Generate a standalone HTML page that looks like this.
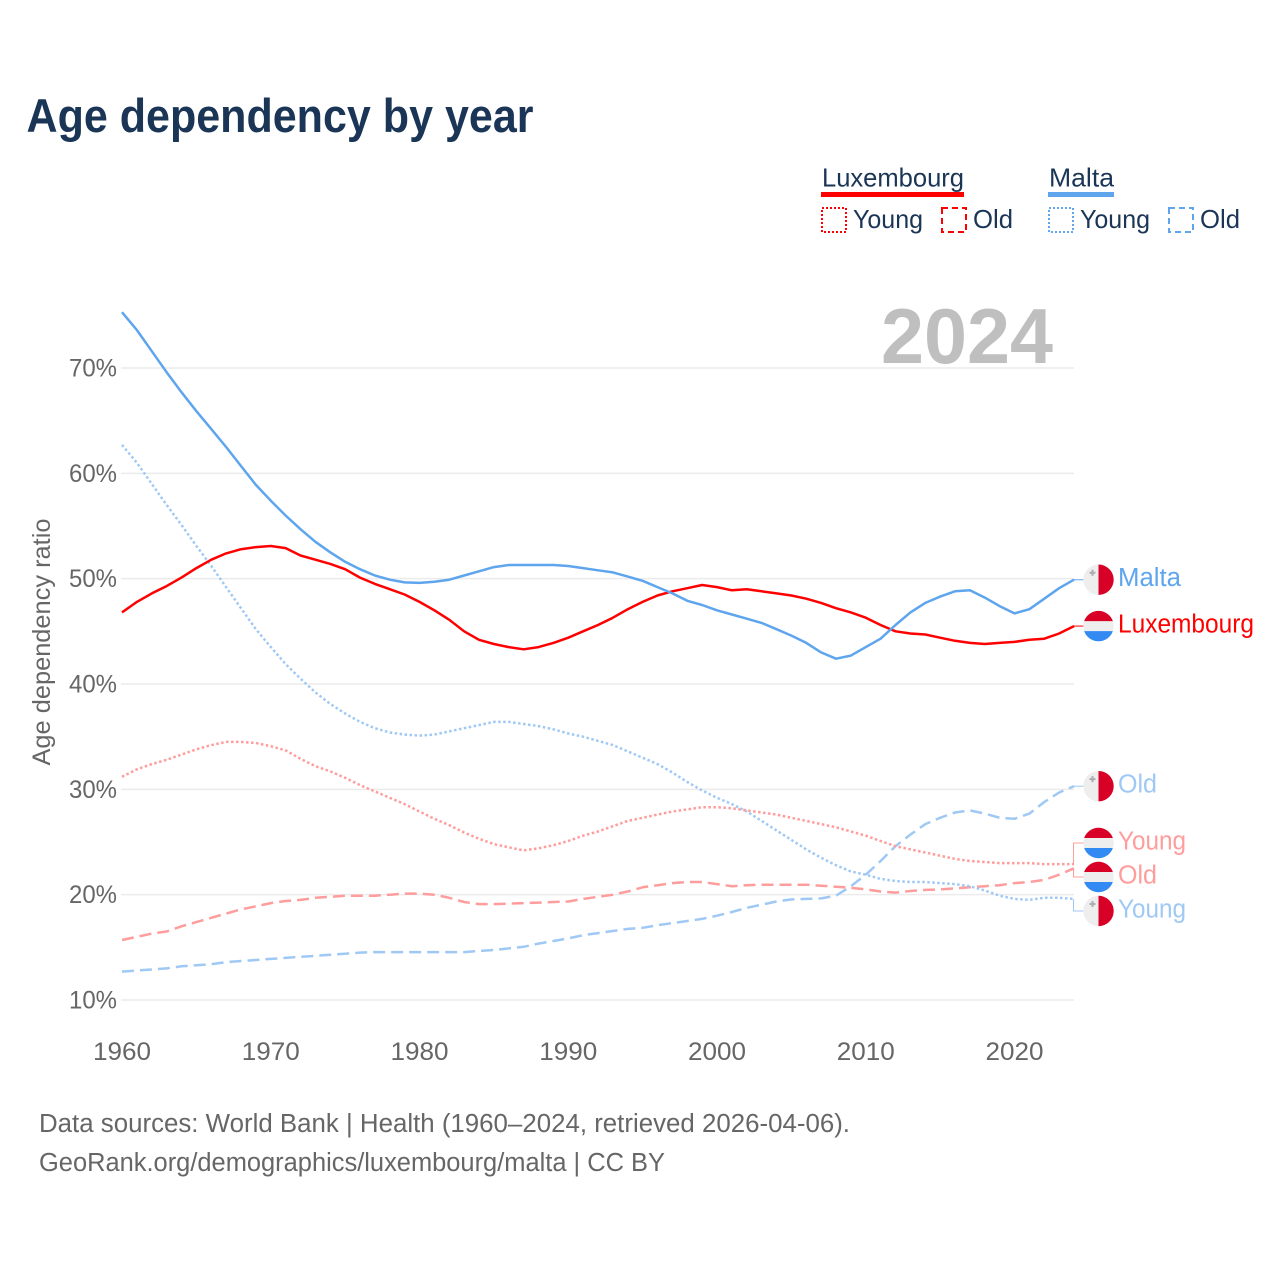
<!DOCTYPE html>
<html lang="en">
<head>
<meta charset="utf-8">
<title>Age dependency by year</title>
<style>
html,body{margin:0;padding:0;background:#fff;}
svg{display:block;font-family:"Liberation Sans",sans-serif;}
</style>
</head>
<body>
<svg id="chart" xmlns="http://www.w3.org/2000/svg" width="1280" height="1280" viewBox="0 0 1280 1280">
  <rect width="1280" height="1280" fill="#fff"/>
  <text x="26.5" y="132" font-size="47" font-weight="700" fill="#1a3556" textLength="507" lengthAdjust="spacingAndGlyphs">Age dependency by year</text>

  <g font-size="26" fill="#1a3556">
    <text x="822" y="186.5" textLength="142" lengthAdjust="spacingAndGlyphs">Luxembourg</text>
    <rect x="821" y="192" width="143" height="5" fill="#ff0000"/>
    <rect x="822" y="208" width="24" height="24" fill="none" stroke="#ff0000" stroke-width="2" stroke-dasharray="2 2"/>
    <text x="853" y="228" textLength="70" lengthAdjust="spacingAndGlyphs">Young</text>
    <rect x="942" y="208" width="24" height="24" fill="none" stroke="#ff0000" stroke-width="2" stroke-dasharray="6 4"/>
    <text x="973" y="228" textLength="40" lengthAdjust="spacingAndGlyphs">Old</text>
    <text x="1049" y="186.5" textLength="65" lengthAdjust="spacingAndGlyphs">Malta</text>
    <rect x="1048" y="192" width="66" height="5" fill="#5ea5ee"/>
    <rect x="1049" y="208" width="24" height="24" fill="none" stroke="#5ea5ee" stroke-width="2" stroke-dasharray="2 2"/>
    <text x="1080" y="228" textLength="70" lengthAdjust="spacingAndGlyphs">Young</text>
    <rect x="1169" y="208" width="24" height="24" fill="none" stroke="#5ea5ee" stroke-width="2" stroke-dasharray="6 4"/>
    <text x="1200" y="228" textLength="40" lengthAdjust="spacingAndGlyphs">Old</text>
  </g>

  <text transform="translate(50,642) rotate(-90)" text-anchor="middle" font-size="25" fill="#666" textLength="247" lengthAdjust="spacingAndGlyphs">Age dependency ratio</text>
  <g id="grid"></g>
  <g id="yticks"></g>
  <g id="xticks"></g>
  <text x="881" y="363" font-size="78" font-weight="700" fill="#bfbfbf" textLength="172" lengthAdjust="spacingAndGlyphs">2024</text>
  <g id="series"></g>
  <g id="ends"></g>

  <text x="39" y="1132" font-size="25.5" fill="#666" textLength="811" lengthAdjust="spacingAndGlyphs">Data sources: World Bank | Health (1960–2024, retrieved 2026-04-06).</text>
  <text x="39" y="1171" font-size="25.5" fill="#666" textLength="626" lengthAdjust="spacingAndGlyphs">GeoRank.org/demographics/luxembourg/malta | CC BY</text>
</svg>

<script>
const yTickValues = [10, 20, 30, 40, 50, 60, 70];
const xTickYears = [1960, 1970, 1980, 1990, 2000, 2010, 2020];
const firstYear = 1960;
const maltaTotal = [75.3,73.6,71.6,69.6,67.7,65.9,64.2,62.5,60.7,58.9,57.4,56.0,54.7,53.5,52.5,51.6,50.9,50.3,49.9,49.65,49.6,49.7,49.9,50.3,50.7,51.1,51.3,51.3,51.3,51.3,51.2,51.0,50.8,50.6,50.2,49.8,49.2,48.6,47.9,47.5,47.0,46.6,46.2,45.8,45.2,44.6,43.9,43.0,42.4,42.7,43.5,44.3,45.6,46.8,47.7,48.3,48.8,48.9,48.2,47.4,46.7,47.1,48.1,49.1,49.9];
const luxembourgTotal = [46.8,47.8,48.6,49.3,50.1,51.0,51.8,52.4,52.8,53.0,53.1,52.9,52.2,51.8,51.4,50.9,50.1,49.5,49.0,48.5,47.8,47.0,46.1,45.0,44.2,43.8,43.5,43.3,43.5,43.9,44.4,45.0,45.6,46.3,47.1,47.8,48.4,48.8,49.1,49.4,49.2,48.9,49.0,48.8,48.6,48.4,48.1,47.7,47.2,46.8,46.3,45.6,45.0,44.8,44.7,44.4,44.1,43.9,43.8,43.9,44.0,44.2,44.3,44.8,45.5];
const maltaYoung = [62.7,61.0,59.0,57.0,55.1,53.1,51.2,49.2,47.2,45.2,43.5,41.9,40.5,39.2,38.1,37.2,36.4,35.8,35.4,35.2,35.1,35.2,35.5,35.8,36.1,36.4,36.4,36.2,36.0,35.7,35.3,35.0,34.6,34.2,33.6,33.0,32.4,31.6,30.7,29.9,29.2,28.6,27.9,27.0,26.1,25.2,24.3,23.5,22.8,22.2,21.9,21.5,21.3,21.2,21.2,21.1,21.0,20.8,20.4,19.9,19.6,19.5,19.7,19.7,19.6];
const luxembourgYoung = [31.2,31.9,32.4,32.8,33.3,33.8,34.2,34.5,34.5,34.4,34.1,33.7,32.9,32.2,31.7,31.1,30.4,29.8,29.2,28.6,27.9,27.2,26.6,25.9,25.3,24.8,24.5,24.2,24.4,24.7,25.1,25.6,26.0,26.5,27.0,27.3,27.6,27.9,28.1,28.3,28.3,28.2,28.0,27.8,27.6,27.3,27.0,26.7,26.4,26.0,25.6,25.1,24.6,24.3,24.0,23.7,23.4,23.2,23.1,23.0,23.0,23.0,22.9,22.9,22.9];
const luxembourgOld = [15.7,16.0,16.3,16.5,17.0,17.4,17.8,18.2,18.6,18.9,19.2,19.4,19.5,19.7,19.8,19.9,19.9,19.9,20.0,20.1,20.1,20.0,19.7,19.3,19.1,19.1,19.15,19.2,19.25,19.3,19.35,19.6,19.8,20.0,20.3,20.7,20.9,21.1,21.2,21.2,21.0,20.8,20.9,20.95,20.95,20.95,20.95,20.85,20.75,20.65,20.5,20.3,20.2,20.35,20.45,20.5,20.6,20.7,20.8,20.9,21.1,21.2,21.4,21.9,22.5];
const maltaOld = [12.7,12.8,12.9,13.0,13.2,13.3,13.4,13.6,13.7,13.8,13.9,14.0,14.1,14.2,14.3,14.4,14.5,14.55,14.55,14.55,14.55,14.55,14.55,14.55,14.65,14.75,14.9,15.05,15.35,15.6,15.85,16.15,16.35,16.55,16.75,16.85,17.1,17.3,17.5,17.7,18.0,18.35,18.75,19.05,19.35,19.55,19.6,19.65,19.9,20.8,21.9,23.2,24.6,25.7,26.7,27.3,27.8,28.0,27.7,27.3,27.2,27.7,28.8,29.7,30.3];

const NS = 'http://www.w3.org/2000/svg';
const xScale = function (year) { return 122 + (year - firstYear) * 14.875; };
const yScale = function (value) { return 1000 - (value - 10) * 10.533; };
const RED = '#ff0000', BLUE = '#5ea5ee', LIGHT_RED = '#ff9c9c', LIGHT_BLUE = '#9fc9f4';

function svgEl(tag, parent) {
  const el = document.createElementNS(NS, tag);
  parent.appendChild(el);
  return el;
}

const gridGroup = document.getElementById('grid');
const yTickGroup = document.getElementById('yticks');
const xTickGroup = document.getElementById('xticks');
const seriesGroup = document.getElementById('series');
const endsGroup = document.getElementById('ends');

yTickValues.forEach(function (v) {
  const line = svgEl('line', gridGroup);
  
  
  line.setAttribute('x1', 121);
  line.setAttribute('x2', 1074);
  line.setAttribute('y1', yScale(v));
  line.setAttribute('y2', yScale(v));
  line.setAttribute('stroke', '#ebebeb');
  line.setAttribute('stroke-width', 1.5);
  const t = svgEl('text', yTickGroup);
  
  
  t.setAttribute('x', 69);
  t.setAttribute('y', yScale(v) + 8.5);
  t.setAttribute('font-size', 25);
  t.setAttribute('fill', '#666');
  t.setAttribute('textLength', 48);
  t.setAttribute('lengthAdjust', 'spacingAndGlyphs');
  t.textContent = v + '%';
});

xTickYears.forEach(function (y) {
  const t = svgEl('text', xTickGroup);
  
  
  t.setAttribute('x', xScale(y) - 29);
  t.setAttribute('y', 1060);
  t.setAttribute('font-size', 25);
  t.setAttribute('fill', '#666');
  t.setAttribute('textLength', 58);
  t.setAttribute('lengthAdjust', 'spacingAndGlyphs');
  t.textContent = y;
});

function drawLine(values, name, color, dash) {
  const p = svgEl('polyline', seriesGroup);
  
  
  p.setAttribute('fill', 'none');
  p.setAttribute('stroke', color);
  p.setAttribute('stroke-width', 2.5);
  p.setAttribute('stroke-linejoin', 'round');
  if (dash) p.setAttribute('stroke-dasharray', dash);
  p.setAttribute('points', values.map(function (v, i) {
    return xScale(firstYear + i).toFixed(1) + ',' + yScale(v).toFixed(1);
  }).join(' '));
}

drawLine(maltaOld, 'malta-old-line', LIGHT_BLUE, '12 6');
drawLine(luxembourgOld, 'luxembourg-old-line', LIGHT_RED, '12 6');
drawLine(maltaYoung, 'malta-young-line', LIGHT_BLUE, '2.5 2.5');
drawLine(luxembourgYoung, 'luxembourg-young-line', LIGHT_RED, '2.5 2.5');
drawLine(luxembourgTotal, 'luxembourg-total-line', RED, '');
drawLine(maltaTotal, 'malta-total-line', BLUE, '');

function drawFlag(country, cy, prefix) {
  const g = svgEl('g', endsGroup);
  
  
  const cx = 1098.5, r = 15.2;
  const base = svgEl('circle', g);
  base.setAttribute('cx', cx);
  base.setAttribute('cy', cy);
  base.setAttribute('r', r);
  base.setAttribute('fill', '#eeeeee');
  if (country === 'malta') {
    const half = svgEl('path', g);
    half.setAttribute('d', 'M' + cx + ' ' + (cy - r) + 'A' + r + ' ' + r + ' 0 0 1 ' + cx + ' ' + (cy + r) + 'Z');
    half.setAttribute('fill', '#d80027');
    const cross = svgEl('path', g);
    cross.setAttribute('d', 'M' + (cx - 7) + ' ' + (cy - 10) + 'h2v2h2v2h-2v2h-2v-2h-2v-2h2z');
    cross.setAttribute('fill', '#acabb1');
  } else {
    const dy = Math.sqrt(r * r - 25);
    const top = svgEl('path', g);
    top.setAttribute('d', 'M' + (cx - dy) + ' ' + (cy - 5) + 'A' + r + ' ' + r + ' 0 0 1 ' + (cx + dy) + ' ' + (cy - 5) + 'Z');
    top.setAttribute('fill', '#d80027');
    const bottom = svgEl('path', g);
    bottom.setAttribute('d', 'M' + (cx - dy) + ' ' + (cy + 5) + 'A' + r + ' ' + r + ' 0 0 0 ' + (cx + dy) + ' ' + (cy + 5) + 'Z');
    bottom.setAttribute('fill', '#338af3');
  }
}

function drawEnd(values, prefix, country, labelText, labelWidth, color, lineColor, labelY) {
  const endY = yScale(values[values.length - 1]);
  const c = svgEl('path', endsGroup);
  
  
  c.setAttribute('d', 'M1073.5 ' + endY + 'V' + labelY + 'H1084');
  c.setAttribute('fill', 'none');
  c.setAttribute('stroke', lineColor);
  c.setAttribute('stroke-width', 1);
  drawFlag(country, labelY, prefix);
  const t = svgEl('text', endsGroup);
  
  
  t.setAttribute('x', 1118);
  t.setAttribute('y', labelY + 6.5);
  t.setAttribute('font-size', 25.5);
  t.setAttribute('fill', color);
  t.setAttribute('textLength', labelWidth);
  t.setAttribute('lengthAdjust', 'spacingAndGlyphs');
  t.textContent = labelText;
}

drawEnd(maltaTotal, 'malta-total', 'malta', 'Malta', 63, BLUE, BLUE, yScale(maltaTotal[maltaTotal.length - 1]));
drawEnd(luxembourgTotal, 'luxembourg-total', 'luxembourg', 'Luxembourg', 136, RED, RED, yScale(luxembourgTotal[luxembourgTotal.length - 1]));
drawEnd(maltaOld, 'malta-old', 'malta', 'Old', 39, LIGHT_BLUE, LIGHT_BLUE, yScale(maltaOld[maltaOld.length - 1]));
drawEnd(luxembourgYoung, 'luxembourg-young', 'luxembourg', 'Young', 68, LIGHT_RED, LIGHT_RED, 843);
drawEnd(luxembourgOld, 'luxembourg-old', 'luxembourg', 'Old', 39, LIGHT_RED, LIGHT_RED, 877);
drawEnd(maltaYoung, 'malta-young', 'malta', 'Young', 68, LIGHT_BLUE, LIGHT_BLUE, 911);
</script>
</body>
</html>
